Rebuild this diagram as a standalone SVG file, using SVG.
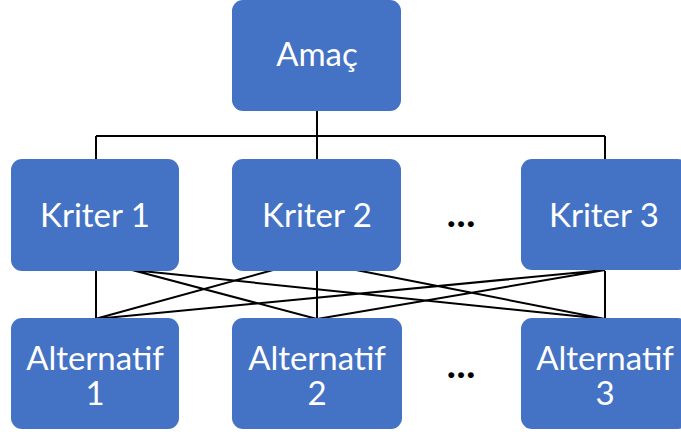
<svg xmlns="http://www.w3.org/2000/svg" width="681" height="436" viewBox="0 0 681 436">
<style>
.box{fill:#4472C4;}
.t{fill:#fff;font-family:Lato,"Open Sans","Liberation Sans",sans-serif;font-size:33px;text-anchor:middle;}
.dots{fill:#000;font-family:Lato,"Liberation Sans",sans-serif;font-size:36px;font-weight:900;text-anchor:middle;}
.c{stroke:#000;stroke-width:2;fill:none;}
</style>
<rect width="681" height="436" fill="#fff"/>
<g id="connectors">
<path class="c" d="M317 111V136M96 136H605M96 136V159M317 136V159M605 136V159"/>
<path class="c" d="M96 271V319M317 271V319M605 271V319"/>
<path class="c" d="M132 270L317 319M132 270L605 319M273 270L95 319M356 270L605 319M605 270L95 319M605 270L317 319"/>
</g>
<g id="amac"><rect class="box" x="232" y="0" width="169" height="111" rx="11"/><text class="t" x="317" y="66">Amaç</text></g>
<g id="kriter1"><rect class="box" x="11" y="159" width="168" height="112" rx="11"/><text class="t" x="95" y="227">Kriter 1</text></g>
<g id="kriter2"><rect class="box" x="232" y="159" width="169" height="112" rx="11"/><text class="t" x="317" y="227">Kriter 2</text></g>
<g id="kriter3"><rect class="box" x="521" y="159" width="168" height="111" rx="11"/><text class="t" x="604" y="227">Kriter 3</text></g>
<g id="dots1"><text class="dots" x="461" y="227">…</text></g>
<g id="alt1"><rect class="box" x="11" y="318" width="168" height="111" rx="11"/><text class="t" x="95" y="370">Alternatif<tspan x="95" dy="35">1</tspan></text></g>
<g id="alt2"><rect class="box" x="232" y="318" width="170" height="111" rx="11"/><text class="t" x="317" y="370">Alternatif<tspan x="317" dy="35">2</tspan></text></g>
<g id="alt3"><rect class="box" x="521" y="318" width="168" height="111" rx="11"/><text class="t" x="605" y="370">Alternatif<tspan x="605" dy="35">3</tspan></text></g>
<g id="dots2"><text class="dots" x="461" y="378">…</text></g>
</svg>
